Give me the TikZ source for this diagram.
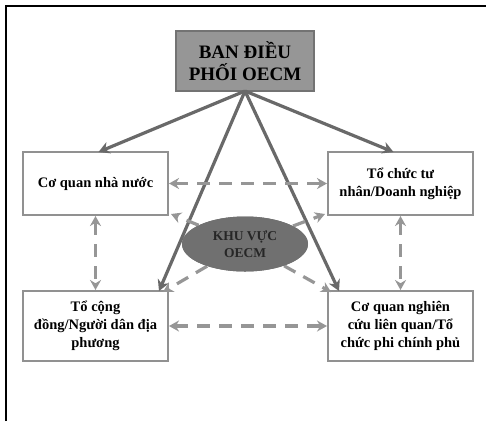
\documentclass[tikz,border=0pt]{standalone}
\usepackage{fontspec}
\setmainfont{Liberation Serif}
\usetikzlibrary{arrows.meta,shapes.geometric}
\definecolor{boxline}{RGB}{145,145,145}
\definecolor{topfill}{RGB}{150,150,150}
\definecolor{topline}{RGB}{115,115,115}
\definecolor{solidc}{RGB}{105,105,105}
\definecolor{dashc}{RGB}{150,150,150}
\definecolor{ellfill}{RGB}{112,112,112}
\tikzset{
  actor/.style={draw=boxline, line width=2pt, fill=white, minimum width=145pt, align=center, font=\bfseries\fontsize{14.5}{18}\selectfont, inner sep=1pt},
  boss/.style={draw=topline, line width=2pt, fill=topfill, minimum width=138pt, minimum height=60pt, align=center, font=\bfseries\fontsize{19}{22}\selectfont, inner sep=1pt},
  zone/.style={ellipse, draw=none, fill=ellfill, minimum width=126pt, minimum height=55pt, align=center, font=\bfseries\fontsize{13.5}{17}\selectfont, text=black!85, inner sep=0pt},
  solidarrow/.style={draw=solidc, line width=3.2pt, -{Stealth[length=11pt,width=12pt]}},
  dasharrow/.style={draw=dashc, line width=3.2pt, dash pattern=on 13pt off 9pt, {Stealth[length=10pt,width=11pt]}-{Stealth[length=10pt,width=11pt]}},
  dashone/.style={draw=dashc, line width=3.2pt, dash pattern=on 13pt off 9pt, -{Stealth[length=10pt,width=11pt]}}
}
\begin{document}
\begin{tikzpicture}[x=1pt,y=-1pt]
\useasboundingbox (0,0) rectangle (486,421);
\draw[black, line width=2.5pt] (6,421) -- (6,6) -- (486,6);
\node[boss] (ban) at (245,61) {BAN ĐIỀU\\PHỐI OECM};
\node[actor, minimum height=63pt] (nn) at (95.5,183.5) {Cơ quan nhà nước};
\node[actor, minimum height=63pt] (tn) at (400.5,183.5) {Tổ chức tư\\nhân/Doanh nghiệp};
\node[actor, minimum height=70pt] (cd) at (95.5,326) {Tổ cộng\\đồng/Người dân địa\\phương};
\node[actor, minimum height=70pt] (nc) at (400.5,326) {Cơ quan nghiên\\cứu liên quan/Tổ\\chức phi chính phủ};
\node[zone] (kv) at (245,244) {KHU VỰC\\OECM};
\coordinate (bb) at (245,91);
\draw[solidarrow] (bb) -- ([xshift=3pt,yshift=-1pt]nn.north);
\draw[solidarrow] (bb) -- ([xshift=-7pt,yshift=-1pt]tn.north);
\draw[solidarrow] (bb) -- ([xshift=-10pt,yshift=-1pt]cd.north east);
\draw[solidarrow] (bb) -- ([xshift=12pt,yshift=-1pt]nc.north west);
\draw[dasharrow] (nn.east) -- (tn.west);
\draw[dasharrow] (cd.east) -- (nc.west);
\draw[dasharrow] (nn.south) -- (cd.north);
\draw[dasharrow] (tn.south) -- (nc.north);
\draw[dashone] (kv) -- ([xshift=2pt,yshift=2pt]nn.south east);
\draw[dashone] (kv) -- ([xshift=-2pt,yshift=2pt]tn.south west);
\draw[dashone] (kv) -- ([xshift=-6pt,yshift=-2pt]cd.north east);
\draw[dashone] (kv) -- ([xshift=4pt,yshift=-2pt]nc.north west);
\node[zone] at (245,244) {KHU VỰC\\OECM};
\end{tikzpicture}
\end{document}
